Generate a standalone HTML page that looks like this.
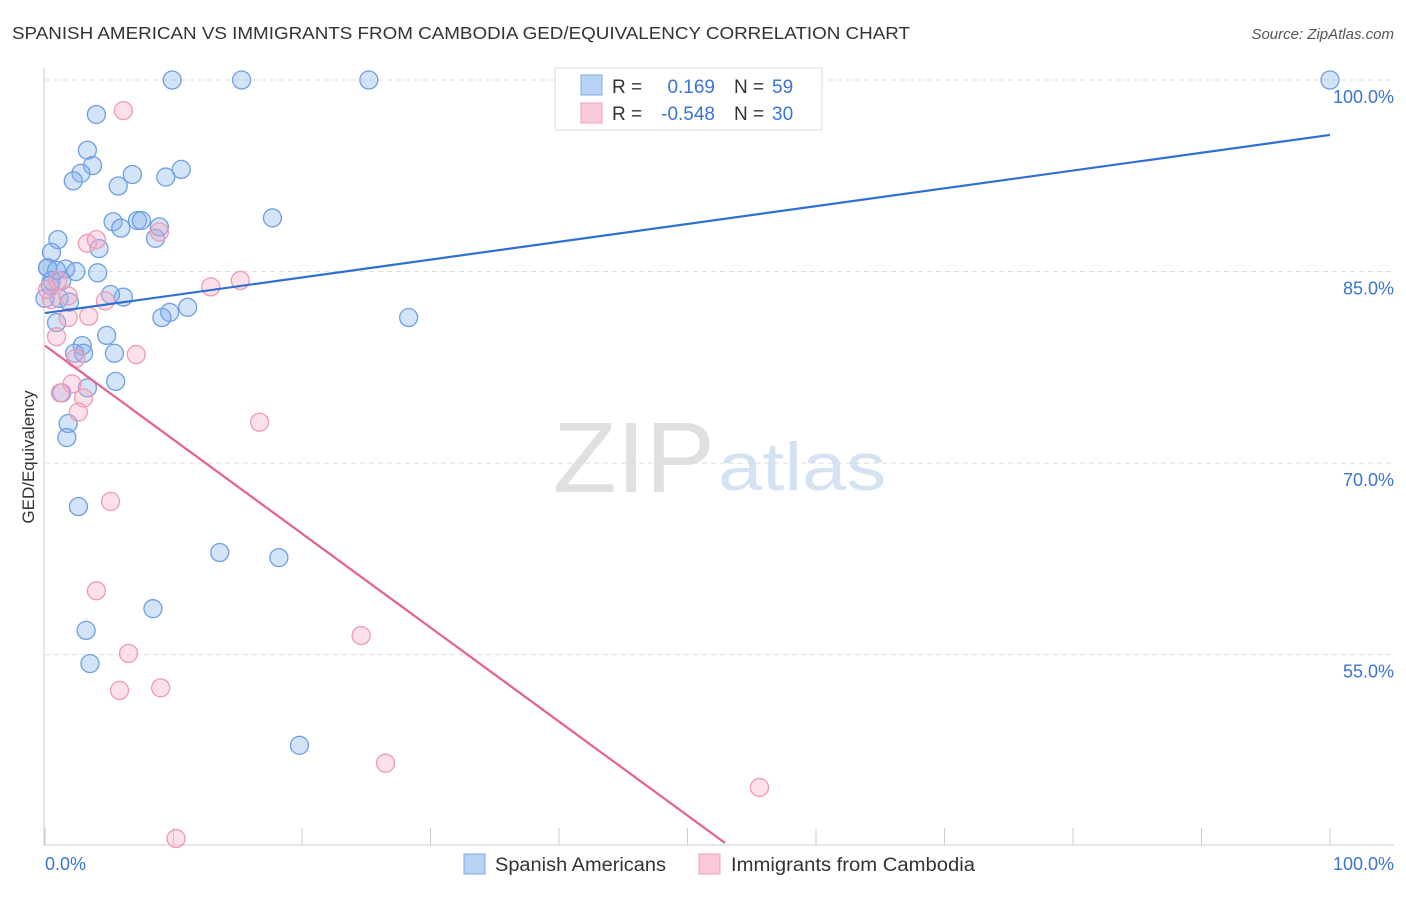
<!DOCTYPE html>
<html><head><meta charset="utf-8"><style>
body{margin:0;background:#fff;font-family:"Liberation Sans",sans-serif;}
svg text{font-family:"Liberation Sans",sans-serif;}
</style></head><body>
<svg id="c" width="1406" height="892" xmlns="http://www.w3.org/2000/svg">
<text x="12" y="39" font-size="17.5" fill="#333" textLength="898" lengthAdjust="spacingAndGlyphs">SPANISH AMERICAN VS IMMIGRANTS FROM CAMBODIA GED/EQUIVALENCY CORRELATION CHART</text>
<text x="1394" y="39" font-size="15" fill="#555" font-style="italic" text-anchor="end">Source: ZipAtlas.com</text>
<text x="34" y="457" font-size="17" fill="#333" text-anchor="middle" transform="rotate(-90 34 457)">GED/Equivalency</text>
<text x="553" y="492" font-size="100" fill="#e0e0e0" font-family="Liberation Serif" textLength="162" lengthAdjust="spacingAndGlyphs">ZIP</text>
<text x="718" y="490" font-size="68" fill="#d5e2f3" textLength="168" lengthAdjust="spacingAndGlyphs">atlas</text>
<g id="grid"></g><g id="marks"></g>
<g>
<rect x="555" y="68" width="267" height="62" fill="#fff" stroke="#ddd"/>
<rect x="581" y="75" width="21" height="20" fill="#b9d3f5" stroke="#7fa9e6"/>
<rect x="581" y="103" width="21" height="20" fill="#fcc9da" stroke="#f0a0ba"/>
<text x="612" y="93" font-size="19" fill="#333">R =</text>
<text x="715" y="93" font-size="19" fill="#3a74d4" text-anchor="end">0.169</text>
<text x="734" y="93" font-size="19" fill="#333">N =</text>
<text x="772" y="93" font-size="19" fill="#3a74d4">59</text>
<text x="612" y="120" font-size="19" fill="#333">R =</text>
<text x="715" y="120" font-size="19" fill="#3a74d4" text-anchor="end">-0.548</text>
<text x="734" y="120" font-size="19" fill="#333">N =</text>
<text x="772" y="120" font-size="19" fill="#3a74d4">30</text>
</g>
<g>
<rect x="464" y="854" width="21" height="20" fill="#b9d3f5" stroke="#7fa9e6"/>
<text x="495" y="871" font-size="19" fill="#333" textLength="171" lengthAdjust="spacingAndGlyphs">Spanish Americans</text>
<rect x="699" y="854" width="21" height="20" fill="#fcc9da" stroke="#f0a0ba"/>
<text x="731" y="871" font-size="19" fill="#333" textLength="244" lengthAdjust="spacingAndGlyphs">Immigrants from Cambodia</text>
</g>
</svg>
<script>
const yTicks=[100,85,70,55];
const yTickLabels=["100.0%","85.0%","70.0%","55.0%"];
const xTickLabels=["0.0%","100.0%"];
const blueX=[9.9,15.3,25.2,100,4.0,3.3,3.7,2.8,2.2,5.7,6.8,10.6,9.4,5.3,5.9,7.2,7.5,8.9,8.6,17.7,1.0,0.5,4.2,0.2,1.6,2.4,4.1,0.5,1.3,1.1,1.9,6.1,5.1,11.1,9.7,9.1,28.3,0.9,4.8,2.9,2.3,3.0,5.4,5.5,3.3,1.3,1.8,1.7,2.6,13.6,18.2,8.4,3.2,3.5,19.8,0,0.4,0.2,0.9];
const blueY=[100,100,100,100,97.3,94.5,93.3,92.7,92.1,91.7,92.6,93.0,92.4,88.9,88.4,89.0,89.0,88.5,87.6,89.2,87.5,86.5,86.8,85.3,85.2,85.0,84.9,84.3,84.3,82.9,82.6,83.0,83.2,82.2,81.8,81.4,81.4,81.0,80.0,79.2,78.6,78.6,78.6,76.4,75.9,75.5,73.1,72.0,66.6,63.0,62.6,58.6,56.9,54.3,47.9,82.9,83.9,85.3,85.1];
const pinkX=[6.1,3.3,4.0,8.9,12.9,15.2,4.7,3.4,1.8,0.9,7.1,2.4,2.1,1.2,3.0,2.6,16.7,5.1,4.0,24.6,6.5,5.8,9.0,26.5,55.6,10.2,0.5,0.2,1.0,1.8];
const pinkY=[97.6,87.2,87.5,88.1,83.8,84.3,82.7,81.5,81.4,79.9,78.5,78.2,76.2,75.5,75.1,74.0,73.2,67.0,60.0,56.5,55.1,52.2,52.4,46.5,44.6,40.6,82.8,83.6,84.3,83.1];
const blueFit=[81.75,0.1395];
const pinkFit=[79.2,-0.736];
const X=v=>45+v*12.85, Y=v=>80+(100-v)*12.77;
const NS="http://www.w3.org/2000/svg";
function mk(t,a,p){const e=document.createElementNS(NS,t);for(const k in a)e.setAttribute(k,a[k]);p.appendChild(e);return e;}
const g=document.getElementById('grid'), m=document.getElementById('marks');
yTicks.forEach((t,i)=>{
 const l=mk('line',{x1:45,x2:1394,y1:Y(t),y2:Y(t),stroke:'#ddd','stroke-dasharray':'5,4'},g);
 
 
 const tx=mk('text',{x:1394,y:Y(t)+23,'font-size':18,fill:'#3a74d4','text-anchor':'end'},g);tx.textContent=yTickLabels[i];
 
 
});
const ax=mk('line',{x1:44,x2:44,y1:68,y2:845,stroke:'#ccc'},g);


const bx=mk('line',{x1:44,x2:1394,y1:845,y2:845,stroke:'#ccc'},g);


for(let i=0;i<=10;i++){const t=mk('line',{x1:X(i*10),x2:X(i*10),y1:828,y2:845,stroke:'#ccc'},g);
 
 }
const xl0=mk('text',{x:45,y:870,'font-size':18,fill:'#3a74d4'},g);xl0.textContent=xTickLabels[0];


const xl1=mk('text',{x:1394,y:870,'font-size':18,fill:'#3a74d4','text-anchor':'end'},g);xl1.textContent=xTickLabels[1];


blueX.forEach((v,i)=>{const c=mk('circle',{cx:X(v),cy:Y(blueY[i]),r:9,fill:'rgba(130,175,235,0.35)',stroke:'#6d9fe3','stroke-width':1.3},m);
 
 });
pinkX.forEach((v,i)=>{const c=mk('circle',{cx:X(v),cy:Y(pinkY[i]),r:9,fill:'rgba(248,170,195,0.35)',stroke:'#ee9ab5','stroke-width':1.3},m);
 
 });
const bl=mk('line',{x1:X(0),y1:Y(blueFit[0]),x2:X(100),y2:Y(blueFit[0]+100*blueFit[1]),stroke:'#2f6fd4','stroke-width':2.2},m);


const xe=(40.25-pinkFit[0])/pinkFit[1];
const pl=mk('line',{x1:X(0),y1:Y(pinkFit[0]),x2:X(xe),y2:Y(pinkFit[0]+xe*pinkFit[1]),stroke:'#e5608c','stroke-width':2.2},m);


</script>
</body></html>
